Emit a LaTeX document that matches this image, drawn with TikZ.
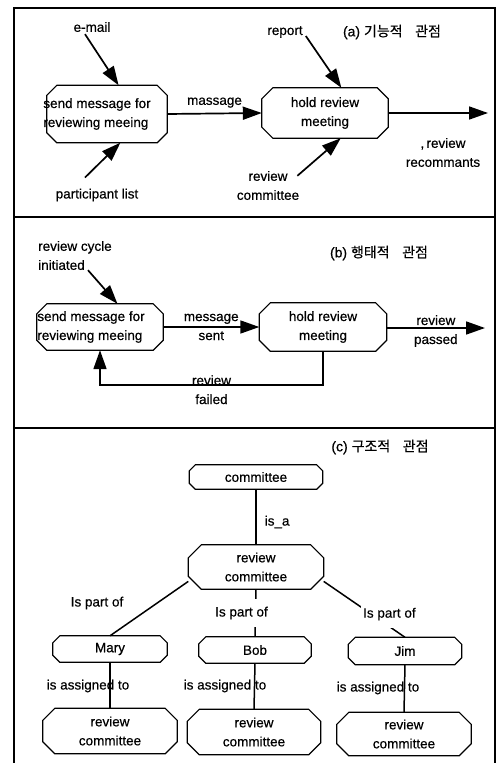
\documentclass[tikz,border=0pt]{standalone}
\usepackage{fontspec}
\setmainfont{Liberation Sans}[FakeBold=0.5]
\newfontfamily\cjk{Noto Sans CJK KR}[FakeBold=0.4]
\usetikzlibrary{arrows.meta,calc}

% octagon outline around a rectangular node: #1 node name, #2 corner cut
\newcommand\octagon[2]{%
  \draw[octline] ($(#1.north west)+(#2,0)$) -- ($(#1.north east)+(-#2,0)$)
    -- ($(#1.north east)+(0,#2)$) -- ($(#1.south east)+(0,-#2)$)
    -- ($(#1.south east)+(-#2,0)$) -- ($(#1.south west)+(#2,0)$)
    -- ($(#1.south west)+(0,-#2)$) -- ($(#1.north west)+(0,#2)$) -- cycle;}

\begin{document}
\begin{tikzpicture}[x=1pt,y=-1pt,
  font=\fontsize{13.5}{19}\selectfont,
  every node/.style={inner sep=1pt},
  box/.style={rectangle, inner sep=0pt, align=center},
  octline/.style={line width=1.2pt, line join=miter},
  arr/.style={line width=1.7pt, -{Triangle[length=19pt,width=13pt]}},
  link/.style={line width=1.5pt},
  frame/.style={line width=1.2pt},
  paneltitle/.style={font=\fontsize{14}{16}\selectfont},
  cover/.style={fill=white, inner xsep=2pt, inner ysep=8pt},
]
\useasboundingbox (0,0) rectangle (499,763);

% outer frame and panel separators
\draw[frame] (14,775) -- (14,8) -- (495,8) -- (495,775);
\draw[frame] (14,217) -- (495,217);
\draw[frame] (14,428) -- (495,428);

% ---------- (a) functional view ----------
\node[paneltitle] (ta) at (392,32) {(a) {\cjk 기능적\hspace{0.9em}관점}};

\node[box, minimum width=120pt, minimum height=57pt] (s1) at (107,114) {};
\octagon{s1}{10}
\node[align=left] (s1t) at (97,114) {send message for\\reviewing meeing};
\node[box, minimum width=126pt, minimum height=50pt] (h1) at (325,113)
  {hold review\\meeting};
\octagon{h1}{11}

\node (email) at (92,27) {e-mail};
\node (plist) at (97,195) {participant list};
\node (report) at (285,32) {report};
\node[align=center] (rcom) at (268,185.5) {review\\committee};
\node[align=center] (recs) at (443,152.5) {{,}\,review\\recommants};
\coordinate (aout) at (488,113);

\draw[arr] ($(email.south)+(-7,1)$) -- (s1.68);
\draw[arr] ($(plist.north)+(-12,-10)$) -- (s1.-65);
\draw[arr] (s1.east) -- node[above=4pt] (msg) {massage} (h1.west);
\draw[arr] ($(report.east)+(2,4)$) -- (h1.57);
\draw[arr] ($(rcom.north east)+(-3,6)$) -- (h1.-58);
\draw[arr] (h1.east) -- (aout);

% ---------- (b) behavioural view ----------
\node[paneltitle] (tb) at (379,253) {(b) {\cjk 행태적\hspace{0.9em}관점}};

\node[align=left, anchor=west] (cyc) at (37,255.5) {review cycle\\initiated};
\node[box, minimum width=126pt, minimum height=46pt] (s2) at (100,327) {};
\octagon{s2}{10}
\node[align=left] (s2t) at (91,327) {send message for\\reviewing meeing};
\node[box, minimum width=127pt, minimum height=48pt] (h2) at (323,327)
  {hold review\\meeting};
\octagon{h2}{11}
\coordinate (bout) at (485,328);

\draw[arr] ($(cyc.south)+(13,-1)$) -- (s2.53);
\draw[arr] (s2.east) -- node[align=center] (sent) {message\\sent} (h2.west);
\draw[arr] (h2.east |- bout) -- node[align=center, yshift=-3pt] (pass) {review\\passed} (bout);
\draw[arr] (h2.south) -- ++(0,34) coordinate (fb)
  -- node[align=center, yshift=-4.5pt] (fail) {review\\failed} (fb -| s2.south) -- (s2.south);

% ---------- (c) structural view ----------
\node[paneltitle] (tc) at (380,447) {(c) {\cjk 구조적\hspace{0.9em}관점}};

\node[box, minimum width=133pt, minimum height=24pt] (com) at (256,477) {committee};
\octagon{com}{6}
\node[box, minimum width=135pt, minimum height=44pt] (rc) at (256,567) {review\\committee};
\octagon{rc}{13}

\node[box, minimum width=114pt, minimum height=26pt] (mary) at (110,649) {Mary};
\octagon{mary}{7}
\node[box, minimum width=112pt, minimum height=26pt] (bob) at (255,650) {Bob};
\octagon{bob}{7}
\node[box, minimum width=113pt, minimum height=27pt] (jim) at (405,651) {Jim};
\octagon{jim}{7}

\node[box, minimum width=134pt, minimum height=45pt] (rcm) at (110,731) {review\\committee};
\octagon{rcm}{12}
\node[box, minimum width=133pt, minimum height=45pt] (rcb) at (254,732) {review\\committee};
\octagon{rcb}{12}
\node[box, minimum width=134pt, minimum height=43pt] (rcj) at (404,734) {review\\committee};
\octagon{rcj}{12}

\draw[link] (com) -- node[right=7pt, yshift=-5pt] (isa) {is\_a} (rc);

\draw[link] (rc.192) -- (mary.north);
\node (pm) at (97,603) {Is part of};
\draw[link] (rc.south) -- node[cover, xshift=-14pt] (pb) {Is part of} (bob.north);
\draw[link] (rc.-12) -- node[cover, pos=0.55, xshift=21pt, yshift=-2pt] (pj) {Is part of} (jim.north);

\node (am) at (88,686) {is assigned to};
\node (ab) at (225,686) {is assigned to};
\node (aj) at (378,688) {is assigned to};
\draw[link] (mary.south) -- (rcm.north);
\draw[link] (bob.south) -- (rcb.north);
\draw[link] (jim.south) -- (rcj.north);
\end{tikzpicture}
\end{document}
